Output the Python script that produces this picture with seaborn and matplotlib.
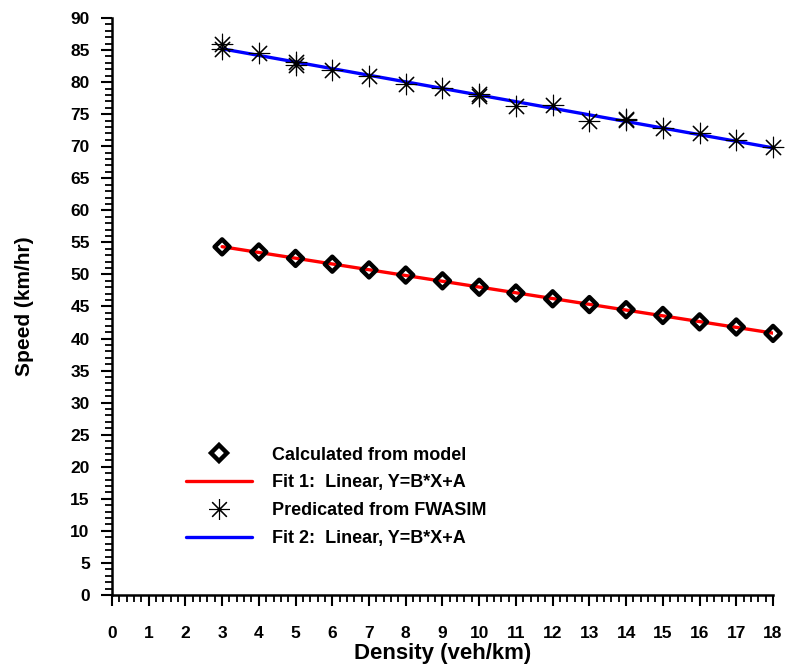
import matplotlib

matplotlib.use("Agg")
import matplotlib.pyplot as plt
import numpy as np
import pandas as pd
import seaborn as sns
from matplotlib.lines import Line2D
from matplotlib.ticker import MultipleLocator

# calculated from model (diamonds)
model_density = [3, 4, 5, 6, 7, 8, 9, 10, 11, 12, 13, 14, 15, 16, 17, 18]
model_speed = [54.3, 53.5, 52.5, 51.6, 50.7, 49.9, 49.0, 48.0,
               47.1, 46.2, 45.3, 44.5, 43.6, 42.6, 41.8, 40.8]

# predicted from FWASIM (asterisks, some densities were run twice)
sim_density = [3, 3, 4, 5, 5, 6, 7, 8, 9, 10, 10, 11, 12, 13, 14, 14, 15, 16, 17, 18]
sim_speed = [86.0, 85.1, 84.5, 83.1, 82.7, 81.9, 80.9, 79.7, 79.1, 78.2, 77.8,
             76.3, 76.4, 74.0, 74.3, 74.1, 72.8, 72.0, 70.9, 69.8]

legend_labels = [
    "Calculated from model",
    "Fit 1:  Linear, Y=B*X+A",
    "Predicated from FWASIM",
    "Fit 2:  Linear, Y=B*X+A",
]

model_df = pd.DataFrame({"density": model_density, "speed": model_speed})
sim_df = pd.DataFrame({"density": sim_density, "speed": sim_speed})

sns.set_style("ticks")
plt.rcParams["font.family"] = ["Liberation Sans", "DejaVu Sans"]
plt.rcParams["font.weight"] = "bold"
plt.rcParams["text.color"] = "black"
plt.rcParams["axes.labelcolor"] = "black"
plt.rcParams["xtick.color"] = "black"
plt.rcParams["ytick.color"] = "black"

asterisk = (8, 2, 0)

fig = plt.figure(figsize=(7.88, 6.66), dpi=100)
ax = fig.add_axes([0.142, 0.1066, 0.839, 0.8664])

sns.regplot(data=model_df, x="density", y="speed", ax=ax, scatter=False, ci=None,
            color="#ff0000", line_kws={"linewidth": 2.4, "zorder": 2})
sns.regplot(data=sim_df, x="density", y="speed", ax=ax, scatter=False, ci=None,
            color="#0000ff", line_kws={"linewidth": 2.4, "zorder": 2})

sns.scatterplot(data=model_df, x="density", y="speed", ax=ax, marker="D", s=58,
                facecolors="none", edgecolor="black", linewidth=3.2, zorder=3,
                clip_on=False)
sns.scatterplot(data=sim_df, x="density", y="speed", ax=ax, marker=asterisk, s=220,
                color="black", edgecolor="black", linewidth=0.8, zorder=3,
                clip_on=False)

ax.set_xlim(0, 18)
ax.set_ylim(0, 90)
ax.xaxis.set_major_locator(MultipleLocator(1))
ax.xaxis.set_minor_locator(MultipleLocator(0.2))
ax.yaxis.set_major_locator(MultipleLocator(5))
ax.yaxis.set_minor_locator(MultipleLocator(1))

for side in ["top", "right"]:
    ax.spines[side].set_visible(False)
for side in ["left", "bottom"]:
    ax.spines[side].set_linewidth(1.8)
    ax.spines[side].set_color("black")

ax.tick_params(axis="both", which="major", length=8, width=1.5, labelsize=12.5)
ax.tick_params(axis="both", which="minor", length=5, width=1.3)
ax.tick_params(axis="x", which="major", pad=14)
ax.tick_params(axis="y", which="major", pad=8)
for lab in ax.get_xticklabels() + ax.get_yticklabels():
    lab.set_fontweight("bold")

ax.set_xlabel("Density (veh/km)", fontsize=16, fontweight="bold", labelpad=2)
ax.set_ylabel("Speed (km/hr)", fontsize=15, fontweight="bold", labelpad=26)

handles = [
    Line2D([], [], linestyle="none", marker="D", markersize=8, markerfacecolor="none",
           markeredgecolor="black", markeredgewidth=3.2),
    Line2D([], [], color="#ff0000", linewidth=2.4),
    Line2D([], [], linestyle="none", marker=asterisk, markersize=15, color="black",
           markeredgewidth=0.8),
    Line2D([], [], color="#0000ff", linewidth=2.4),
]
ax.legend(handles, legend_labels, loc="lower left", bbox_to_anchor=(0.088, 0.055),
          frameon=False, handlelength=3.65, handletextpad=1.1, labelspacing=0.6,
          prop={"weight": "bold", "size": 13})

fig.savefig("out.png", dpi=100)
